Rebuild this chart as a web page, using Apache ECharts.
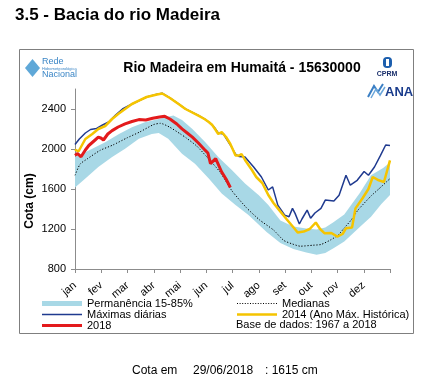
<!DOCTYPE html>
<html>
<head>
<meta charset="utf-8">
<script src="https://cdn.jsdelivr.net/npm/echarts@6/dist/echarts.min.js"></script>
<style>
html,body{margin:0;padding:0;background:#fff;}
#c{width:433px;height:387px;}
</style>
</head>
<body>
<div id="c"></div>
<script>
// ---- data (day of year, cota in cm) ----
const months = ['jan','fev','mar','abr','mai','jun','jul','ago','set','out','nov','dez',''];
const yTicks = [800, 1200, 1600, 2000, 2400];

// Permanência 15-85% band: upper (85%) and lower (15%) edges
const bandHighDays = [0, 10, 20, 35, 51, 66, 81, 97, 106, 114, 124, 136, 151, 166, 182, 197, 213, 224, 238, 253, 268, 280, 290, 299, 312, 330, 343, 357, 365];
const bandHighVals = [1920, 1960, 2002, 2068, 2151, 2217, 2267, 2300, 2320, 2335, 2290, 2201, 2068, 1919, 1787, 1654, 1538, 1439, 1285, 1225, 1205, 1195, 1215, 1265, 1345, 1560, 1737, 1810, 1865];
const bandLowDays  = [0, 12, 27, 43, 58, 74, 89, 97, 108, 124, 139, 155, 170, 186, 201, 222, 238, 253, 268, 280, 290, 300, 312, 330, 343, 355, 365];
const bandLowVals  = [1615, 1704, 1820, 1919, 2002, 2102, 2151, 2160, 2102, 1953, 1853, 1704, 1555, 1439, 1339, 1170, 1060, 1000, 965, 942, 960, 1010, 1074, 1220, 1323, 1450, 1540];

const medDays = [0, 6, 14, 29, 44, 60, 75, 91, 99, 110, 122, 129, 141, 153, 168, 182, 199, 214, 230, 242, 252, 261, 276, 285, 296, 305, 312, 320, 328, 343, 352, 362, 365];
const medVals = [1737, 1850, 1900, 1986, 2040, 2110, 2170, 2244, 2257, 2217, 2151, 2110, 2030, 1919, 1770, 1580, 1410, 1290, 1190, 1085, 1050, 1028, 1038, 1045, 1090, 1140, 1210, 1290, 1390, 1530, 1600, 1680, 1704];

const maxDays = [0, 5, 12, 18, 25, 32, 39, 47, 55, 66, 74, 83, 95, 101, 110, 120, 128, 143, 150, 158, 162, 166, 172, 180, 186, 190, 197, 207, 216, 224, 229, 235, 243, 248, 252, 255, 260, 263, 269, 273, 278, 285, 290, 300, 306, 314, 319, 327, 335, 340, 347, 354, 360, 365];
const maxVals = [2045, 2100, 2160, 2195, 2205, 2240, 2270, 2340, 2400, 2450, 2483, 2520, 2548, 2558, 2512, 2452, 2402, 2336, 2302, 2250, 2210, 2160, 2150, 2040, 1950, 1925, 1919, 1820, 1720, 1590, 1621, 1439, 1339, 1323, 1406, 1356, 1250, 1300, 1389, 1307, 1360, 1406, 1489, 1480, 1538, 1737, 1638, 1687, 1775, 1737, 1820, 1936, 2040, 2035];

const y2014Days = [0, 4, 12, 20, 27, 35, 43, 50, 58, 66, 74, 83, 95, 101, 110, 120, 128, 143, 150, 155, 159, 163, 166, 170, 175, 180, 186, 190, 193, 197, 205, 210, 217, 224, 230, 235, 245, 254, 258, 265, 272, 279, 284, 289, 297, 304, 310, 314, 321, 325, 333, 340, 345, 352, 358, 365];
const y2014Vals = [1995, 1975, 2100, 2150, 2200, 2230, 2300, 2350, 2400, 2450, 2483, 2520, 2545, 2555, 2510, 2450, 2400, 2334, 2300, 2270, 2240, 2190, 2150, 2168, 2120, 2050, 1936, 1935, 1950, 1890, 1790, 1720, 1660, 1540, 1460, 1406, 1300, 1207, 1165, 1174, 1200, 1265, 1200, 1158, 1160, 1124, 1150, 1207, 1215, 1406, 1505, 1600, 1720, 1687, 1670, 1886];

const y2018Days = [0, 3, 7, 12, 16, 22, 27, 30, 33, 38, 43, 50, 58, 66, 74, 82, 90, 98, 104, 110, 118, 124, 130, 136, 143, 151, 154, 157, 163, 170, 175, 180];
const y2018Vals = [1936, 1955, 1922, 1990, 2035, 2080, 2118, 2110, 2090, 2150, 2184, 2220, 2251, 2275, 2294, 2290, 2307, 2320, 2327, 2300, 2250, 2201, 2160, 2118, 2060, 1986, 1960, 1853, 1903, 1770, 1700, 1615];

const pairs = (d, v) => d.map((x, i) => [x, v[i]]);
const bandHigh = pairs(bandHighDays, bandHighVals);
const bandLow = pairs(bandLowDays, bandLowVals);

const FONT = 'Arial, "Liberation Sans", sans-serif';

// legend icons (40x5 box; thin invisible slivers keep the full box extent)
const EDGE = 'M0,0H40V0.01H0Z M0,4.99H40V5H0Z ';
const lineIcon = (t) => 'path://' + EDGE + 'M0,' + (2.5 - t / 2) + 'H40V' + (2.5 + t / 2) + 'H0Z';
let dotPath = 'path://' + EDGE;
for (let x = 0; x < 40; x += 2.6) dotPath += 'M' + x + ',2H' + (x + 1) + 'V3H' + x + 'Z ';

const chart = echarts.init(document.getElementById('c'), null, {renderer: 'canvas'});

const option = {
  backgroundColor: '#fff',
  animation: false,
  textStyle: {fontFamily: FONT},
  grid: {left: 75, right: 43, top: 89, bottom: 118, containLabel: false},
  xAxis: [
    {type: 'value', min: 0, max: 365, show: false},
    {type: 'category', data: months, boundaryGap: false, position: 'bottom',
     axisLine: {lineStyle: {color: '#8c8c8c', width: 1}},
     axisTick: {show: true, length: 4, lineStyle: {color: '#8c8c8c'}},
     axisLabel: {rotate: 40, margin: 15, fontSize: 11, color: '#000', fontFamily: FONT, interval: 0},
     splitLine: {show: false}}
  ],
  yAxis: {
    type: 'value', min: 800, max: 2600,
    axisLine: {show: true, lineStyle: {color: '#8c8c8c', width: 1}},
    axisTick: {show: true, length: 4, lineStyle: {color: '#8c8c8c'}, customValues: yTicks},
    axisLabel: {fontSize: 11, color: '#000', margin: 9, fontFamily: FONT, customValues: yTicks,
                formatter: (v) => String(v)},
    splitLine: {show: false}
  },
  legend: [
    {orient: 'vertical', left: 42, top: 298, itemWidth: 40, itemHeight: 5, itemGap: 0, padding: 0,
     itemStyle: {borderWidth: 0},
     textStyle: {fontSize: 11, color: '#000', fontFamily: FONT},
     data: [{name: 'Permanência 15-85%', icon: 'rect'},
            {name: 'Máximas diárias', icon: lineIcon(1.5)},
            {name: '2018', icon: lineIcon(3)}]},
    {orient: 'vertical', left: 237, top: 298, itemWidth: 40, itemHeight: 5, itemGap: 0, padding: 0,
     itemStyle: {borderWidth: 0},
     textStyle: {fontSize: 11, color: '#000', fontFamily: FONT},
     data: [{name: 'Medianas', icon: dotPath},
            {name: '2014 (Ano Máx. Histórica)', icon: lineIcon(2.5)}]}
  ],
  series: [
    {name: 'Permanência 15-85%', type: 'custom', data: bandHigh, encode: {x: 0, y: 1},
     itemStyle: {color: '#a8d8e6'}, silent: true,
     renderItem: function (params, api) {
       if (params.dataIndex !== 0) return null;
       const top = bandHigh.map((p) => api.coord(p));
       const bottom = bandLow.map((p) => api.coord(p)).reverse();
       return {type: 'polygon', shape: {points: top.concat(bottom)},
               style: {fill: '#a8d8e6', stroke: null}};
     }},
    {name: 'Medianas', type: 'line', data: pairs(medDays, medVals), symbol: 'none', smooth: 0.2,
     itemStyle: {color: '#000'}, lineStyle: {color: '#000', width: 1, type: [1.2, 1.8]}},
    {name: 'Máximas diárias', type: 'line', data: pairs(maxDays, maxVals), symbol: 'none',
     itemStyle: {color: '#1f3a8f'}, lineStyle: {color: '#1f3a8f', width: 1.5}},
    {name: '2014 (Ano Máx. Histórica)', type: 'line', data: pairs(y2014Days, y2014Vals), symbol: 'none',
     itemStyle: {color: '#f5c400'}, lineStyle: {color: '#f5c400', width: 2.5}},
    {name: '2018', type: 'line', data: pairs(y2018Days, y2018Vals), symbol: 'none',
     itemStyle: {color: '#e31a1c'}, lineStyle: {color: '#e31a1c', width: 3}}
  ],
  graphic: [
    {type: 'text', left: 15, top: 7, style: {text: '3.5 - Bacia do rio Madeira', font: 'bold 17px ' + FONT, fill: '#000'}},
    {type: 'rect', shape: {x: 19.5, y: 49.5, width: 394, height: 284}, style: {fill: 'none', stroke: '#7f7f7f', lineWidth: 1}, z: -1},
    {type: 'text', x: 242, y: 68, style: {text: 'Rio Madeira em Humaitá - 15630000', font: 'bold 14px ' + FONT, fill: '#000', align: 'center', verticalAlign: 'middle'}},
    {type: 'text', x: 30, y: 201, rotation: Math.PI / 2, style: {text: 'Cota (cm)', font: 'bold 12px ' + FONT, fill: '#000', align: 'center', verticalAlign: 'middle'}},
    // Rede Hidrometeorológica Nacional logo
    {type: 'polygon', shape: {points: [[25, 68], [32.5, 59], [40, 68], [32.5, 77]]}, style: {fill: '#5fa8d8'}},
    {type: 'text', x: 42, y: 62, style: {text: 'Rede', font: '9px ' + FONT, fill: '#3b86c6', verticalAlign: 'middle'}},
    {type: 'text', x: 42, y: 68.5, style: {text: 'Hidrometeorológica', font: '4px ' + FONT, fill: '#3b86c6', verticalAlign: 'middle'}},
    {type: 'text', x: 42, y: 75, style: {text: 'Nacional', font: '9px ' + FONT, fill: '#3b86c6', verticalAlign: 'middle'}},
    // CPRM logo
    {type: 'rect', shape: {x: 383, y: 57, width: 9, height: 11, r: 4}, style: {fill: '#1d5fae'}},
    {type: 'rect', shape: {x: 386, y: 59, width: 3, height: 7}, style: {fill: '#fff'}},
    {type: 'text', x: 387, y: 74, style: {text: 'CPRM', font: 'bold 7px ' + FONT, fill: '#1a2f6b', align: 'center', verticalAlign: 'middle'}},
    // ANA logo
    {type: 'polyline', shape: {points: [[368, 97], [374, 86], [378, 92], [383, 84]]}, style: {stroke: '#3b7fc4', lineWidth: 2, fill: 'none'}},
    {type: 'polyline', shape: {points: [[371, 98], [376, 89], [380, 95], [385, 87]]}, style: {stroke: '#6aa6da', lineWidth: 1.5, fill: 'none'}},
    {type: 'text', x: 385, y: 92, style: {text: 'ANA', font: 'bold 13px ' + FONT, fill: '#1a3c8c', verticalAlign: 'middle'}},
    {type: 'text', x: 236, y: 325, style: {text: 'Base de dados: 1967 a 2018', font: '11px ' + FONT, fill: '#000', verticalAlign: 'middle'}},
    {type: 'text', x: 132, y: 371, style: {text: 'Cota em', font: '12px ' + FONT, fill: '#000', verticalAlign: 'middle'}},
    {type: 'text', x: 193, y: 371, style: {text: '29/06/2018', font: '12px ' + FONT, fill: '#000', verticalAlign: 'middle'}},
    {type: 'text', x: 265, y: 371, style: {text: ': 1615 cm', font: '12px ' + FONT, fill: '#000', verticalAlign: 'middle'}}
  ]
};
chart.setOption(option);
</script>
</body>
</html>
